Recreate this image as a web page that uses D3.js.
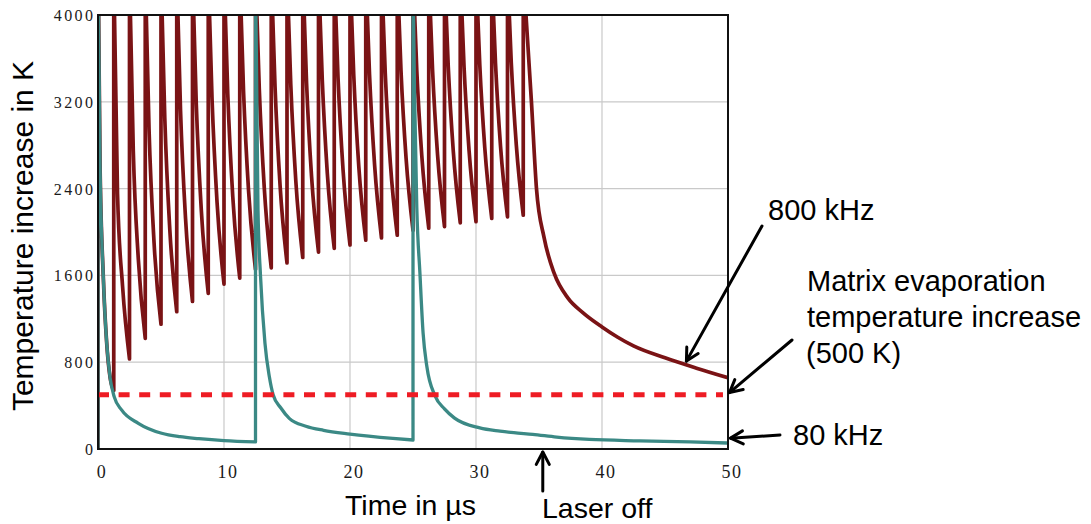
<!DOCTYPE html>
<html>
<head>
<meta charset="utf-8">
<script src="https://cdn.jsdelivr.net/npm/d3@7"></script>
<style>
  html, body { margin: 0; padding: 0; background: #fff; }
  svg { display: block; }
  .serif { font-family: "Liberation Serif", "Times New Roman", serif; fill: #1a1a1a; }
  .sans { font-family: "Liberation Sans", Arial, sans-serif; fill: #000; }
</style>
</head>
<body>
<svg id="chart" width="1091" height="524"></svg>
<script>
// ---- Tick labels ----
const xTicks = [0, 10, 20, 30, 40, 50];
const yTicks = [0, 800, 1600, 2400, 3200, 4000];

// ---- 800 kHz pulse train (temperature increase in K, time in µs) ----
// First pulse at t = 0 (same decay as the 80 kHz curve until the second pulse)
const red800FirstCycle = [[0, 0], [0, 4400], [0.05, 4000], [0.16, 2640], [0.42, 1590], [0.69, 975], [0.95, 665]];
// Times of the following pulses
const red800PulseTimes = [1.25, 2.5, 3.75, 5, 6.25, 7.5, 8.75, 10, 11.25, 12.5, 13.75, 15, 16.25, 17.5,
  18.75, 20, 21.25, 22.5, 23.75, 25, 26.25, 27.5, 28.75, 30, 31.25, 32.5, 33.75];
// Temperature just before each of those pulses
const red800Troughs = [540, 830, 1020, 1150, 1265, 1360, 1435, 1520, 1575, 1655, 1670, 1715, 1765, 1815,
  1850, 1880, 1925, 1945, 1970, 2015, 2035, 2050, 2085, 2095, 2125, 2140, 2155];
// Temperature 0.3 µs and 0.7 µs after each pulse (pulse at 33.75 µs is the last one)
const red800After03 = [2350, 2750, 2950, 3050, 3120, 3180, 3230, 3270, 3300, 3320, 3340, 3360, 3380,
  3400, 3420, 3440, 3450, 3460, 3480, 3490, 3500, 3520, 3525, 3540, 3550, 3560];
const red800After07 = [1500, 1750, 1900, 2020, 2120, 2200, 2270, 2320, 2380, 2400, 2430, 2470, 2510,
  2540, 2570, 2600, 2620, 2640, 2680, 2700, 2710, 2740, 2750, 2770, 2785, 2800];
const red800PeakValue = 4400;
// Cooling after the laser is switched off
const red800AfterOff = [[34.4, 3200], [34.8, 2400], [35.4, 1950], [36.2, 1620], [37.3, 1390], [38.5, 1255],
  [40, 1125], [41.25, 1030], [42.5, 950], [45, 840], [47.5, 745], [50, 657]];

// ---- 80 kHz pulse train ----
const teal80 = [[0, 0], [0, 4400], [0.05, 4000], [0.16, 2640], [0.42, 1590], [0.69, 975], [0.95, 665],
  [1.29, 480], [1.87, 360], [3.2, 237], [5.05, 145], [6.5, 113], [8, 95], [10, 77], [12.5, 65],
  [12.5, 4400], [12.6, 3300], [12.7, 2200], [12.9, 1590], [13.25, 975], [13.6, 665], [13.9, 500],
  [14.5, 380], [15.2, 280], [16.5, 210], [17.9, 172], [20, 138], [23.4, 98], [25, 83],
  [25, 4400], [25.12, 3300], [25.3, 2230], [25.55, 1620], [25.8, 1070], [26.1, 760], [26.75, 490],
  [27.5, 370], [28.3, 285], [30.3, 195], [31.9, 165], [33, 150], [34.5, 135], [36.4, 110], [39, 88],
  [43, 75], [47, 65], [50, 55]];

// ---- Matrix evaporation threshold ----
const thresholdK = 500;
const thresholdSpan = [0, 49.6];
const laserOffTime = 35.3;

// ---- Layout ----
const W = 1091, H = 524;
const m = { left: 98, right: 363, top: 15, bottom: 75 };
const svg = d3.select("#chart");

const x = d3.scaleLinear().domain([0, 50]).range([m.left, W - m.right]);
const y = d3.scaleLinear().domain([0, 4000]).range([H - m.bottom, m.top]);

// assemble the 800 kHz polyline from the readings above
const red800 = red800FirstCycle.slice();
red800PulseTimes.forEach((t, i) => {
  red800.push([t, red800Troughs[i]], [t, red800PeakValue]);
  if (i < red800After03.length) {
    red800.push([t + 0.3, red800After03[i]], [t + 0.7, red800After07[i]]);
  }
});
red800AfterOff.forEach(p => red800.push(p));

// split a trace into its vertical pulse jumps and its smooth cooling runs
function traceToPath(points) {
  const smooth = d3.line().x(d => x(d[0])).y(d => y(d[1])).curve(d3.curveMonotoneX);
  const straight = d3.line().x(d => x(d[0])).y(d => y(d[1]));
  const parts = [];
  let run = [points[0]];
  for (let i = 1; i < points.length; i++) {
    if (points[i][0] === points[i - 1][0]) {
      if (run.length > 1) parts.push(smooth(run));
      parts.push(straight([points[i - 1], points[i]]));
      run = [points[i]];
    } else {
      run.push(points[i]);
    }
  }
  if (run.length > 1) parts.push(smooth(run));
  return parts.join("");
}

// clip for the curves
svg.append("defs").append("clipPath").attr("id", "plotClip")
  .append("rect")
  .attr("x", x(0)).attr("y", y(4000))
  .attr("width", x(50) - x(0)).attr("height", y(0) - y(4000));

// grid lines
const grid = svg.append("g").attr("stroke", "#c9c9c9").attr("stroke-width", 1.2);
grid.selectAll(".gx").data(xTicks.filter(d => d > 0 && d < 50)).join("line")
  .attr("x1", d => x(d)).attr("x2", d => x(d))
  .attr("y1", y(0)).attr("y2", y(4000));
grid.selectAll(".gy").data(yTicks.filter(d => d > 0 && d < 4000)).join("line")
  .attr("x1", x(0)).attr("x2", x(50))
  .attr("y1", d => y(d)).attr("y2", d => y(d));

const curves = svg.append("g").attr("clip-path", "url(#plotClip)");

curves.append("path")
  .attr("d", traceToPath(red800))
  .attr("fill", "none")
  .attr("stroke", "#7a1315")
  .attr("stroke-width", 3.7)
  .attr("stroke-linecap", "round")
  .attr("stroke-linejoin", "round");

curves.append("path")
  .attr("d", traceToPath(teal80))
  .attr("fill", "none")
  .attr("stroke", "#3b8985")
  .attr("stroke-width", 3.3)
  .attr("stroke-linecap", "round")
  .attr("stroke-linejoin", "round");

// dashed threshold line
svg.append("line")
  .attr("x1", x(thresholdSpan[0])).attr("x2", x(thresholdSpan[1]))
  .attr("y1", y(thresholdK)).attr("y2", y(thresholdK))
  .attr("stroke", "#ee1c24")
  .attr("stroke-width", 5)
  .attr("stroke-dasharray", "11 9.6");

// frame
svg.append("rect")
  .attr("x", x(0)).attr("y", y(4000))
  .attr("width", x(50) - x(0)).attr("height", y(0) - y(4000))
  .attr("fill", "none").attr("stroke", "#111").attr("stroke-width", 2);

// axes (labels only)
const yAxis = svg.append("g").attr("transform", `translate(${x(0)},0)`)
  .call(d3.axisLeft(y).tickValues(yTicks).tickSize(0).tickPadding(5).tickFormat(d3.format("d")));
yAxis.select(".domain").remove();
yAxis.selectAll("text")
  .attr("class", "serif")
  .attr("font-size", 16)
  .attr("letter-spacing", "2.4px")
  .attr("dx", "2.4px")
  .attr("dy", "0.34em");

const xAxis = svg.append("g").attr("transform", `translate(0,${y(0)})`)
  .call(d3.axisBottom(x).tickValues(xTicks).tickSize(0).tickPadding(16).tickFormat(d3.format("d")));
xAxis.select(".domain").remove();
xAxis.selectAll("text")
  .attr("class", "serif")
  .attr("font-size", 18)
  .attr("letter-spacing", "1.5px")
  .attr("dx", "3.5px");

// axis titles
svg.append("text").attr("class", "sans")
  .attr("transform", `translate(33,236) rotate(-90)`)
  .attr("text-anchor", "middle")
  .attr("font-size", 30)
  .text("Temperature increase in K");

svg.append("text").attr("class", "sans")
  .attr("x", 345).attr("y", 515)
  .attr("font-size", 28.5)
  .text("Time in µs");

// annotations
const ann = svg.append("g").attr("class", "sans").attr("font-size", 29);
ann.append("text").attr("x", 768).attr("y", 220).text("800 kHz");
ann.append("text").attr("x", 807).attr("y", 291).text("Matrix evaporation");
ann.append("text").attr("x", 807).attr("y", 327).text("temperature increase");
ann.append("text").attr("x", 806).attr("y", 363).text("(500 K)");
ann.append("text").attr("x", 793).attr("y", 445).text("80 kHz");
ann.append("text").attr("x", 542).attr("y", 518).attr("font-size", 28.5).text("Laser off");

// arrows: tail in pixels, tip anchored to the data it points at
const arrowDefs = [
  { tail: [762, 226], tip: [x(46.7), y(810)] },
  { tail: [792, 340], tip: [x(50) + 1.5, y(520)] },
  { tail: [780, 435], tip: [x(50) + 2.5, y(100)] },
  { tail: [x(laserOffTime), 491], tip: [x(laserOffTime), y(0) + 3] }
];
const arrows = svg.append("g")
  .attr("stroke", "#000").attr("stroke-width", 3).attr("fill", "none")
  .attr("stroke-linecap", "round").attr("stroke-linejoin", "round");
arrowDefs.forEach(a => {
  const [x1, y1] = a.tail, [x2, y2] = a.tip;
  const ang = Math.atan2(y2 - y1, x2 - x1);
  const L = 14, spread = Math.PI / 6.5;
  const p1 = [x2 - L * Math.cos(ang - spread), y2 - L * Math.sin(ang - spread)];
  const p2 = [x2 - L * Math.cos(ang + spread), y2 - L * Math.sin(ang + spread)];
  arrows.append("line").attr("x1", x1).attr("y1", y1).attr("x2", x2).attr("y2", y2);
  arrows.append("path").attr("d", `M${p1[0]},${p1[1]}L${x2},${y2}L${p2[0]},${p2[1]}`);
});
</script>
</body>
</html>
